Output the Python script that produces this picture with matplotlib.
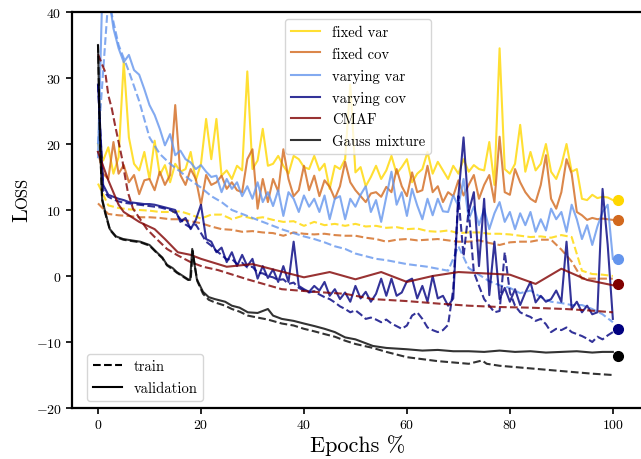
import numpy as np
import matplotlib
matplotlib.use("Agg")
import matplotlib.pyplot as plt
from matplotlib.lines import Line2D

plt.rcParams['font.family'] = ['cmr10', 'DejaVu Serif']
plt.rcParams['mathtext.fontset'] = 'cm'
plt.rcParams['axes.formatter.use_mathtext'] = True
plt.rcParams['axes.unicode_minus'] = True

# ---------------- data ----------------
labels = ["fixed var", "fixed cov", "varying var", "varying cov", "CMAF", "Gauss mixture"]
colors = ["#FFD700", "#D2691E", "#6495ED", "#000080", "#800000", "#000000"]

epochs_1 = np.arange(0, 101, 1)
epochs_2 = np.arange(0, 101, 2)

fixed_var_val = [20, 17.5, 19.5, 15.5, 18, 32.5, 21, 17, 16, 18.8,
                 14.7, 20.5, 15.3, 16.8, 14.2, 17, 15.8, 16.2, 18.8, 14.5,
                 17, 23.8, 17.7, 23.8, 15.2, 16, 14.7, 16.7, 16, 31,
                 16.2, 17.5, 22.3, 16.7, 17, 18.2, 16.7, 15.5, 18.2, 17.7,
                 16.5, 16.2, 18.2, 16, 17, 13.2, 16.7, 16.2, 17.7, 29,
                 15.7, 16.5, 13.6, 15, 16.7, 14.7, 16, 18.2, 15.5, 16.5,
                 17.7, 14.2, 15.5, 16.2, 18.8, 15.5, 17.3, 16, 14.7, 16.7,
                 15.5, 17.7, 15.8, 16.8, 16.2, 16, 20.3, 13.8, 34.5, 16.2,
                 15.5, 17, 22.9, 15.8, 18.8, 16, 17, 20, 15.8, 14.7,
                 16.8, 20, 15.8, 16.2, 11.7, 11.5, 12.3, 11.8, 12, 11.9,
                 11.5]
fixed_var_train = [14, 10.7, 10.3, 10.1, 10, 9.9, 9.7, 9.7, 9.8, 9.3,
                   8.7, 9.3, 9.3, 8.6, 9.1, 8.7, 8.9, 8.5, 8.2, 8.3,
                   7.6, 8.2, 7.7, 7.9, 7.6, 7.9, 7.5, 7.6, 7.3, 7.4,
                   7.1, 7.2, 6.8, 6.7, 6.9, 6.5, 6.6, 6.6, 6.4, 6.4,
                   6.3, 6.1, 5.9, 6.0, 5.8, 6.2, 5.9, 0.8, 0.3, 0.2,
                   0.0]

fixed_cov_val = [18.8, 15.5, 14.7, 20.3, 15.5, 16.8, 14.2, 15.3, 12.4, 14.5,
                 14.7, 13, 15.8, 13.8, 15.3, 25.9, 15.3, 13.8, 16.2, 14.7,
                 10.8, 15.3, 13.8, 14.2, 15.2, 13.2, 14.2, 13, 12.7, 17.7,
                 19.2, 10.2, 14.7, 11.2, 14.7, 12.8, 19.2, 14.7, 12.1, 13,
                 16.7, 13, 15.2, 12.1, 14.5, 13.5, 11.7, 13.6, 17.3, 14.2,
                 13, 12.1, 11.2, 12.5, 12.7, 12, 13.5, 12.7, 16.2, 13.6,
                 12.1, 15.7, 12.7, 13, 16.7, 12.7, 13.6, 11.2, 12.7, 12.1,
                 14.5, 12.2, 13.8, 15.3, 11.7, 13.8, 15.3, 11.2, 21.1, 12.7,
                 12.3, 16.2, 14.2, 12.7, 11.7, 11.2, 13.8, 18.3, 11.7, 10.2,
                 12.7, 17.7, 15.5, 9.7, 9.2, 8.5, 8.8, 8.6, 8.7, 8.6,
                 8.5]
fixed_cov_train = [11, 9.4, 9.2, 9.1, 8.9, 8.9, 8.8, 8.6, 8.6, 8.3,
                   8.0, 7.5, 7.1, 7.0, 6.7, 6.8, 6.6, 6.5, 6.1, 6.6,
                   6.4, 6.3, 6.4, 6.2, 6.1, 6.1, 5.8, 5.6, 5.2, 5.5,
                   5.6, 5.4, 5.5, 5.6, 5.4, 5.2, 5.2, 5.4, 5.0, 4.7,
                   5.1, 5.2, 5.2, 5.5, 5.5, 4.0, 2.2, -0.4, -0.4, -0.4,
                   -0.4]

varying_var_val = [18, 48, 43, 37.5, 34.5, 32.4, 33.5, 31.2, 30.5, 28.3,
                   25.9, 24.4, 22.3, 19.8, 21.5, 18.3, 19, 17.7, 17.2, 16.2,
                   16.8, 15.8, 15, 15.2, 12.7, 14.7, 13.2, 14.2, 12.1, 13.6,
                   11.7, 14.2, 11.2, 12.7, 10.6, 13, 9.1, 12.7, 11.7, 9.7,
                   12.2, 10.5, 11.7, 9.7, 12.2, 8.6, 11.7, 12.1, 8.6, 11.7,
                   10.5, 12.3, 13.6, 9.7, 11.5, 8.2, 12, 15.8, 10.8, 12.7,
                   9.1, 13.2, 10.7, 8.6, 11.7, 9.2, 11.7, 9.8, 9.7, 12.2,
                   10.6, 14.7, 8.6, 10.5, 7.7, 10.2, 7.1, 9.5, 11.2, 8.2,
                   9.7, 7.1, 9.5, 7.7, 9.7, 6.7, 8.6, 6.9, 10.2, 8.6,
                   9.7, 6.7, 10.8, 8.6, 5.6, 7.7, 4.7, 7.5, 9.7, 10.8,
                   2.6]
varying_var_train = [20, 42, 35, 31, 26.5, 21, 18.5, 17, 15.8, 14.5,
                     13.4, 12.1, 11.2, 10, 9.4, 8.8, 8.2, 7.6, 7.0, 6.5,
                     6.0, 5.6, 5.1, 4.5, 4.1, 3.4, 3.0, 2.6, 2.4, 2.1,
                     1.8, 1.6, 1.4, 1.1, 0.8, 4.5, 1.2, 0.2, -0.8, -1.4,
                     -1.8, -2.6, -2.2, -3.2, -3.9, -4.1, -4.4, -4.4, -5.0, -5.8,
                     -7.0]

varying_cov_val = [29, 13.8, 12.3, 12, 11.7, 11.5, 11.2, 11.1, 11, 10.9,
                   10.9, 10.8, 10.6, 10.4, 10.2, 10, 8.2, 8.8, 7.1, 8.5,
                   10.8, 5.6, 5.2, 3.6, 4.3, 2.1, 3.6, 1.5, 3.2, 1.5,
                   2.6, -0.4, 1.5, -0.3, 1, -0.9, 1.5, -0.9, 5.2, -1.5,
                   -2, -2.4, -1.5, -2.2, -0.9, -3, -2, -3.5, -2.5, -3.9,
                   -1.5, -3.4, -2.4, -3.9, -2.7, -0.4, -3, -0.4, -3, -2.5,
                   -0.8, -0.4, -3.4, -1.5, -3.9, 0, -3.4, -3, -4.5, -3.4,
                   12.1, 21, 9.7, 12.7, 1.5, 11.7, -2.9, 5.2, -3.5, -1.8,
                   -3.9, -2, -4.4, -2.5, -0.9, -4, -3, -3.9, -3.5, -2.2,
                   -3.9, 5.2, -5, -3.9, -5.5, -4.5, -5.8, -5.5, 13.2, 4.7,
                   -6.5]
varying_cov_train = [29, 13, 12, 11.6, 11.3, 11.1, 11, 10.9, 10.8, 10.7,
                     10.6, 10.5, 10.4, 10.2, 10, 9.6, 8.6, 7.8, 7.3, 7.8,
                     6.5, 5.2, 4.6, 3.8, 3.2, 2.5, 2.6, 1.8, 2, 1.3,
                     1.4, 0.5, 0.4, 0, -0.2, -0.6, -0.5, -1.2, -1, -1.8,
                     -2.2, -2.5, -2.3, -2.8, -3.2, -3.5, -4, -4.6, -5, -5.5,
                     -5.2, -5.8, -6.5, -6.3, -6.6, -7, -6.6, -7.2, -7.6, -8,
                     -7.5, -6, -5.5, -6.5, -7.8, -8.2, -8.5, -8.2, -7.4, -2,
                     12.1, 3, 10, 0.6, -1.5, -3.5, -4.5, -5.5, -5.3, 3.6,
                     -2.5, -4.5, -5.5, -5.9, -6.2, -6.8, -6.5, -7.3, -8.5, -8,
                     -8.2, -7.8, -8.5, -8.8, -9.1, -9.5, -10, -9.2, -9.6, -9,
                     -8.5]

cmaf_val_x = [0, 2, 4, 5, 8, 11, 13, 15.5, 18, 20, 25, 30, 40, 45, 50, 55,
              60, 65, 70, 80, 85, 90, 95, 100]
cmaf_val = [18.8, 14.5, 10.8, 9.7, 8.2, 7.1, 5.6, 3.6, 3.2, 2.6, 1.4, 1.8,
            -0.2, 0.6, -0.5, 0.6, -0.9, 0.0, 0.6, 0.2, -1.2, 1.1, -0.6, -1.4]
cmaf_train_x = [0, 1.4, 2, 2.7, 3.3, 4, 4.7, 5.2, 5.8, 6.8, 8.2, 9.5, 11.4,
                13.4, 15.3, 18, 20.4, 23.3, 29, 35.7, 42, 48, 53.4, 60, 66.4,
                72, 78, 84, 90.7, 95, 100]
cmaf_train = [33.6, 30.9, 27.4, 25.3, 22.9, 20.3, 17.7, 15.3, 12.7, 10.2, 8.6,
              7.1, 5.6, 4.1, 3.2, 2.1, 1.4, 0.9, -0.5, -2.0, -2.4, -2.7, -3.5,
              -3.8, -4.2, -4.5, -4.7, -4.8, -5.0, -5.2, -5.5]

gauss_val_x = [0, 0.4, 0.8, 1.4, 2.3, 3.5, 4.9, 6.5, 8.2, 10, 11.4, 12.5, 13.4,
               14.5, 15.3, 16.5, 17.5, 17.9, 18.3, 18.7, 19.2, 20.4, 21.5, 22.7,
               24.7, 26, 27.5, 29.1, 31, 33, 34, 35.7, 38, 40, 42.1, 44, 46, 48,
               50, 53.4, 56, 60, 63, 66, 69, 72, 75, 78, 81, 84, 87, 90, 93, 96,
               98, 100]
gauss_val = [35, 20, 11.7, 9.7, 7.1, 6.0, 5.6, 5.4, 5.2, 4.7, 3.6, 2.8, 1.7,
             1.2, 0.6, 0.0, -0.5, -0.6, 4.1, 2.0, -0.5, -2.4, -3.2, -3.5, -3.9,
             -4.5, -4.8, -5.5, -5.6, -5.0, -6.0, -6.5, -6.8, -7.2, -7.6, -8.0,
             -8.5, -9.3, -9.6, -10.6, -10.9, -11.1, -11.3, -11.2, -11.4, -11.4,
             -11.5, -11.3, -11.5, -11.4, -11.6, -11.5, -11.4, -11.6, -11.5,
             -11.5]
gauss_train_x = [0, 0.4, 0.8, 1.4, 2.3, 3.5, 4.9, 6.5, 8.2, 10, 11.4, 12.5, 13.4,
                 14.5, 15.3, 16.5, 17.5, 18, 18.4, 18.8, 19.3, 20.4, 21.5, 22.7,
                 24.7, 26, 27.5, 29.1, 31, 33, 35.7, 38, 40, 42.1, 44, 46, 48,
                 50, 53.4, 56, 60, 63, 66, 69, 72, 74.6, 75.5, 78, 81, 84, 87,
                 90, 93, 96, 98, 100]
gauss_train = [35, 20, 11.5, 9.5, 7.0, 5.9, 5.5, 5.3, 5.1, 4.6, 3.5, 2.7, 1.6,
               1.0, 0.5, -0.1, -0.6, -0.6, 3.8, 1.5, -0.8, -2.7, -3.6, -4.0,
               -4.5, -5.0, -5.4, -6.0, -6.3, -6.6, -7.2, -7.5, -8.0, -8.4, -8.8,
               -9.2, -9.8, -10.3, -10.9, -11.5, -12.3, -12.6, -12.9, -13.1,
               -13.3, -12.8, -13.3, -13.6, -13.8, -14.0, -14.2, -14.4, -14.6,
               -14.8, -14.9, -15.0]

# test losses (same order as labels)
test_x = 101
test_loss = [11.5, 8.5, 2.6, -8.0, -1.2, -12.1]

series = [
    (epochs_2, fixed_var_train, epochs_1, fixed_var_val),
    (epochs_2, fixed_cov_train, epochs_1, fixed_cov_val),
    (epochs_2, varying_var_train, epochs_1, varying_var_val),
    (epochs_1, varying_cov_train, epochs_1, varying_cov_val),
    (cmaf_train_x, cmaf_train, cmaf_val_x, cmaf_val),
    (gauss_train_x, gauss_train, gauss_val_x, gauss_val),
]

# ---------------- plot ----------------
fig = plt.figure(figsize=(6.41, 4.60), dpi=100)
ax = fig.add_axes([72/641, 51/460, 572/641, 396/460])

lw = 1.5
for (tx, ty, vx, vy), c in zip(series, colors):
    ax.plot(tx, ty, color=c, alpha=0.8, lw=lw, ls='--')
    ax.plot(vx, vy, color=c, alpha=0.8, lw=lw, ls='-')
for c, v in zip(colors, test_loss):
    ax.plot([test_x], [v], 'o', color=c, markersize=7, zorder=5)

ax.set_xlim(-5.05, 106.05)
ax.set_ylim(-20, 40)
ax.set_xticks([0, 20, 40, 60, 80, 100])
ax.set_yticks([-20, -10, 0, 10, 20, 30, 40])
ax.tick_params(labelsize=10, width=1.2, length=4)
for s in ax.spines.values():
    s.set_linewidth(1.6)

ax.set_xlabel("Epochs %", fontsize=16, labelpad=2)
# small-caps style y label
ax.text(-0.0787, 0.472, "L", transform=ax.transAxes, rotation=90,
        rotation_mode='anchor', ha='left', va='baseline', fontsize=16)
ax.text(-0.0787, 0.505, "OSS", transform=ax.transAxes, rotation=90,
        rotation_mode='anchor', ha='left', va='baseline', fontsize=12)

handles = [Line2D([], [], color=c, alpha=0.8, lw=lw) for c in colors]
leg1 = ax.legend(handles, labels, loc='upper center', fontsize=10.5,
                 labelspacing=0.55)
ax.add_artist(leg1)
h2 = [Line2D([], [], color='k', lw=lw, ls='--'),
      Line2D([], [], color='k', lw=lw, ls='-')]
ax.legend(h2, ["train", "validation"], loc='lower left', fontsize=10.5,
          labelspacing=0.55, bbox_to_anchor=(0.013, 0.0))

fig.savefig("out.png", dpi=100)
